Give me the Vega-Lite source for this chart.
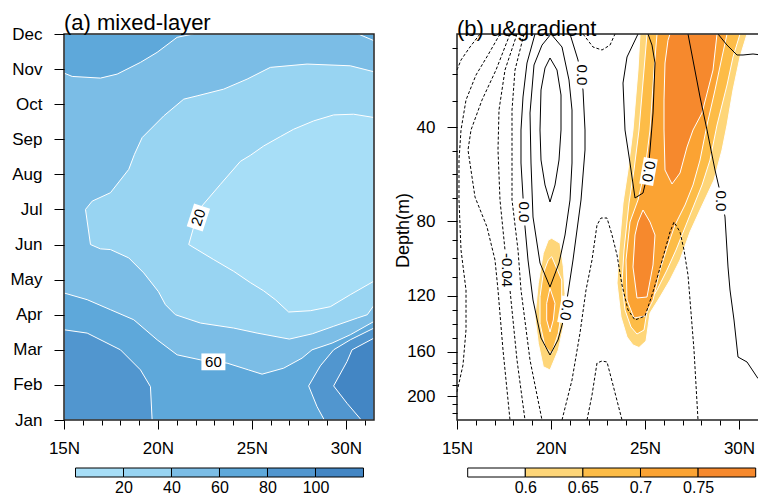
{
"$schema": "https://vega.github.io/schema/vega-lite/v6.json",
"background": "white",
"padding": {"left": 9, "top": 12, "right": 0, "bottom": 0},
"config": {
 "font": "Liberation Sans",
 "view": {"stroke": null},
 "axis": {"labelFont": "Liberation Sans", "labelColor": "#000", "tickColor": "#000", "tickWidth": 1, "ticks": true, "tickOpacity": 1, "domain": false, "grid": false, "labelFontSize": 17, "titleFont": "Liberation Sans", "titleColor": "#000"},
 "title": {"font": "Liberation Sans", "fontSize": 22, "fontWeight": "normal", "color": "#000", "anchor": "start"}
},
"datasets": {
 "mld": [
  {"p":"fr","v":"fr","i":0,"lat":15,"m":1},{"p":"fr","v":"fr","i":1,"lat":31.5,"m":1},{"p":"fr","v":"fr","i":2,"lat":31.5,"m":12},{"p":"fr","v":"fr","i":3,"lat":15,"m":12},{"p":"fr","v":"fr","i":4,"lat":15,"m":1},
  {"p":"bg","v":"c2","i":0,"lat":15,"m":1},{"p":"bg","v":"c2","i":1,"lat":31.5,"m":1},{"p":"bg","v":"c2","i":2,"lat":31.5,"m":12},{"p":"bg","v":"c2","i":3,"lat":15,"m":12},{"p":"bg","v":"c2","i":4,"lat":15,"m":1},
  {"p":"tl","v":"c3","i":0,"lat":15,"m":12},{"p":"tl","v":"c3","i":1,"lat":15,"m":10.886},{"p":"tl","v":"c3","i":2,"lat":15.436,"m":10.791},{"p":"tl","v":"c3","i":3,"lat":16.941,"m":10.743},{"p":"tl","v":"c3","i":4,"lat":17.83,"m":10.857},{"p":"tl","v":"c3","i":5,"lat":19.069,"m":11.191},{"p":"tl","v":"c3","i":6,"lat":19.957,"m":11.477},{"p":"tl","v":"c3","i":7,"lat":21.021,"m":11.906},{"p":"tl","v":"c3","i":8,"lat":21.888,"m":12},{"p":"tl","v":"c3","i":9,"lat":15,"m":12},
  {"p":"tr","v":"c3","i":0,"lat":30.665,"m":12},{"p":"tr","v":"c3","i":1,"lat":31.5,"m":11.809},{"p":"tr","v":"c3","i":2,"lat":31.5,"m":12},{"p":"tr","v":"c3","i":3,"lat":30.665,"m":12},
  {"p":"bt","v":"c3","i":0,"lat":15,"m":4.62},{"p":"bt","v":"c3","i":1,"lat":16.234,"m":4.429},{"p":"bt","v":"c3","i":2,"lat":17.473,"m":4.143},{"p":"bt","v":"c3","i":3,"lat":18.713,"m":3.857},{"p":"bt","v":"c3","i":4,"lat":19.957,"m":3.286},{"p":"bt","v":"c3","i":5,"lat":21.021,"m":2.857},{"p":"bt","v":"c3","i":6,"lat":22.261,"m":2.714},{"p":"bt","v":"c3","i":7,"lat":23.681,"m":2.62},{"p":"bt","v":"c3","i":8,"lat":24.814,"m":2.429},{"p":"bt","v":"c3","i":9,"lat":25.543,"m":2.306},{"p":"bt","v":"c3","i":10,"lat":26.691,"m":2.477},{"p":"bt","v":"c3","i":11,"lat":27.67,"m":2.763},{"p":"bt","v":"c3","i":12,"lat":28.202,"m":3.0},{"p":"bt","v":"c3","i":13,"lat":29.266,"m":3.191},{"p":"bt","v":"c3","i":14,"lat":30.239,"m":3.429},{"p":"bt","v":"c3","i":15,"lat":31.5,"m":3.809},{"p":"bt","v":"c3","i":16,"lat":31.5,"m":1},{"p":"bt","v":"c3","i":17,"lat":15,"m":1},{"p":"bt","v":"c3","i":18,"lat":15,"m":4.62},
  {"p":"bl","v":"c4","i":0,"lat":15,"m":3.571},{"p":"bl","v":"c4","i":1,"lat":16.234,"m":3.477},{"p":"bl","v":"c4","i":2,"lat":18.005,"m":3.0},{"p":"bl","v":"c4","i":3,"lat":19.069,"m":2.429},{"p":"bl","v":"c4","i":4,"lat":19.601,"m":1.951},{"p":"bl","v":"c4","i":5,"lat":19.691,"m":1},{"p":"bl","v":"c4","i":6,"lat":15,"m":1},{"p":"bl","v":"c4","i":7,"lat":15,"m":3.571},
  {"p":"br","v":"c4","i":0,"lat":31.5,"m":3.62},{"p":"br","v":"c4","i":1,"lat":30.239,"m":3.286},{"p":"br","v":"c4","i":2,"lat":29.351,"m":3.0},{"p":"br","v":"c4","i":3,"lat":28.644,"m":2.543},{"p":"br","v":"c4","i":4,"lat":28.021,"m":1.971},{"p":"br","v":"c4","i":5,"lat":28.468,"m":1.38},{"p":"br","v":"c4","i":6,"lat":28.856,"m":1},{"p":"br","v":"c4","i":7,"lat":31.5,"m":1},{"p":"br","v":"c4","i":8,"lat":31.5,"m":3.62},
  {"p":"x5","v":"c5","i":0,"lat":31.5,"m":3.334},{"p":"x5","v":"c5","i":1,"lat":30.33,"m":3.0},{"p":"x5","v":"c5","i":2,"lat":30.064,"m":2.666},{"p":"x5","v":"c5","i":3,"lat":29.351,"m":1.971},{"p":"x5","v":"c5","i":4,"lat":30.064,"m":1.477},{"p":"x5","v":"c5","i":5,"lat":30.824,"m":1},{"p":"x5","v":"c5","i":6,"lat":31.5,"m":1},{"p":"x5","v":"c5","i":7,"lat":31.5,"m":3.334},
  {"p":"b1","v":"c1","i":0,"lat":31.5,"m":10.923},{"p":"b1","v":"c1","i":1,"lat":30.239,"m":11.094},{"p":"b1","v":"c1","i":2,"lat":27.936,"m":11.143},{"p":"b1","v":"c1","i":3,"lat":25.984,"m":11.049},{"p":"b1","v":"c1","i":4,"lat":24.745,"m":10.714},{"p":"b1","v":"c1","i":5,"lat":23.5,"m":10.429},{"p":"b1","v":"c1","i":6,"lat":22.085,"m":10.237},{"p":"b1","v":"c1","i":7,"lat":21.372,"m":10.143},{"p":"b1","v":"c1","i":8,"lat":20.309,"m":9.666},{"p":"b1","v":"c1","i":9,"lat":19.16,"m":9.049},{"p":"b1","v":"c1","i":10,"lat":18.75,"m":8.571},{"p":"b1","v":"c1","i":11,"lat":18.447,"m":8.143},{"p":"b1","v":"c1","i":12,"lat":17.473,"m":7.477},{"p":"b1","v":"c1","i":13,"lat":16.5,"m":7.237},{"p":"b1","v":"c1","i":14,"lat":16.144,"m":7.0},{"p":"b1","v":"c1","i":15,"lat":16.41,"m":6.0},{"p":"b1","v":"c1","i":16,"lat":16.941,"m":5.877},{"p":"b1","v":"c1","i":17,"lat":17.473,"m":5.857},{"p":"b1","v":"c1","i":18,"lat":18.447,"m":5.62},{"p":"b1","v":"c1","i":19,"lat":19.245,"m":5.191},{"p":"b1","v":"c1","i":20,"lat":20.027,"m":4.657},{"p":"b1","v":"c1","i":21,"lat":20.399,"m":4.286},{"p":"b1","v":"c1","i":22,"lat":20.931,"m":4.0},{"p":"b1","v":"c1","i":23,"lat":22.261,"m":3.763},{"p":"b1","v":"c1","i":24,"lat":24.032,"m":3.62},{"p":"b1","v":"c1","i":25,"lat":25.277,"m":3.477},{"p":"b1","v":"c1","i":26,"lat":26.995,"m":3.306},{"p":"b1","v":"c1","i":27,"lat":28.218,"m":3.457},{"p":"b1","v":"c1","i":28,"lat":29.351,"m":3.671},{"p":"b1","v":"c1","i":29,"lat":30.612,"m":3.906},{"p":"b1","v":"c1","i":30,"lat":31.144,"m":4.0},{"p":"b1","v":"c1","i":31,"lat":31.5,"m":4.271},{"p":"b1","v":"c1","i":32,"lat":31.5,"m":10.923},
  {"p":"b0","v":"c0","i":0,"lat":31.5,"m":9.62},{"p":"b0","v":"c0","i":1,"lat":30.415,"m":9.714},{"p":"b0","v":"c0","i":2,"lat":29.351,"m":9.694},{"p":"b0","v":"c0","i":3,"lat":28.287,"m":9.523},{"p":"b0","v":"c0","i":4,"lat":27.223,"m":9.286},{"p":"b0","v":"c0","i":5,"lat":26.516,"m":9.077},{"p":"b0","v":"c0","i":6,"lat":25.628,"m":8.809},{"p":"b0","v":"c0","i":7,"lat":24.92,"m":8.543},{"p":"b0","v":"c0","i":8,"lat":24.388,"m":8.371},{"p":"b0","v":"c0","i":9,"lat":23.324,"m":7.714},{"p":"b0","v":"c0","i":10,"lat":22.261,"m":7.049},{"p":"b0","v":"c0","i":11,"lat":21.941,"m":6.571},{"p":"b0","v":"c0","i":12,"lat":21.638,"m":6.0},{"p":"b0","v":"c0","i":13,"lat":22.968,"m":5.571},{"p":"b0","v":"c0","i":14,"lat":24.032,"m":5.237},{"p":"b0","v":"c0","i":15,"lat":24.92,"m":4.914},{"p":"b0","v":"c0","i":16,"lat":25.612,"m":4.686},{"p":"b0","v":"c0","i":17,"lat":26.25,"m":4.429},{"p":"b0","v":"c0","i":18,"lat":26.957,"m":4.077},{"p":"b0","v":"c0","i":19,"lat":28.112,"m":4.114},{"p":"b0","v":"c0","i":20,"lat":29.176,"m":4.229},{"p":"b0","v":"c0","i":21,"lat":30.239,"m":4.571},{"p":"b0","v":"c0","i":22,"lat":31.5,"m":4.957},{"p":"b0","v":"c0","i":23,"lat":31.5,"m":9.62}
 ],
 "mldlab": [
  {"id":"a","lat":22.952,"m":2.657,"t":"60"},
  {"id":"b","lat":22.154,"m":6.77,"t":"20"}
 ],
 "grad": [
  {"p":"fr","v":"fr","i":0,"lat":31.01,"d":229},{"p":"fr","v":"fr","i":1,"lat":15,"d":229},{"p":"fr","v":"fr","i":2,"lat":15,"d":5},{"p":"fr","v":"fr","i":3,"lat":31.01,"d":5},
  {"p":"a1","v":"L1","i":0,"lat":24.734,"d":5},{"p":"a1","v":"L1","i":1,"lat":24.628,"d":18.41},{"p":"a1","v":"L1","i":2,"lat":24.362,"d":41.15},{"p":"a1","v":"L1","i":3,"lat":24.096,"d":58.23},{"p":"a1","v":"L1","i":4,"lat":23.83,"d":72.32},{"p":"a1","v":"L1","i":5,"lat":23.617,"d":95.53},{"p":"a1","v":"L1","i":6,"lat":23.511,"d":113.2},{"p":"a1","v":"L1","i":7,"lat":23.723,"d":135.21},{"p":"a1","v":"L1","i":8,"lat":24.043,"d":149.5},{"p":"a1","v":"L1","i":9,"lat":24.362,"d":155.21},{"p":"a1","v":"L1","i":10,"lat":24.681,"d":157.0},{"p":"a1","v":"L1","i":11,"lat":25.053,"d":152.36},{"p":"a1","v":"L1","i":12,"lat":25.266,"d":132.36},{"p":"a1","v":"L1","i":13,"lat":25.798,"d":120.93},{"p":"a1","v":"L1","i":14,"lat":26.33,"d":111.59},{"p":"a1","v":"L1","i":15,"lat":26.862,"d":100.88},{"p":"a1","v":"L1","i":16,"lat":27.394,"d":85.89},{"p":"a1","v":"L1","i":17,"lat":27.926,"d":75.3},{"p":"a1","v":"L1","i":18,"lat":28.298,"d":68.9},{"p":"a1","v":"L1","i":19,"lat":28.67,"d":62.5},{"p":"a1","v":"L1","i":20,"lat":29.096,"d":49.69},{"p":"a1","v":"L1","i":21,"lat":29.362,"d":39.14},{"p":"a1","v":"L1","i":22,"lat":29.681,"d":25.94},{"p":"a1","v":"L1","i":23,"lat":30.053,"d":13.51},{"p":"a1","v":"L1","i":24,"lat":30.426,"d":5},{"p":"a1","v":"L1","i":25,"lat":24.734,"d":5},
  {"p":"b1","v":"L1","i":0,"lat":20.037,"d":89.26},{"p":"b1","v":"L1","i":1,"lat":20.479,"d":91.94},{"p":"b1","v":"L1","i":2,"lat":20.654,"d":104.47},{"p":"b1","v":"L1","i":3,"lat":20.745,"d":118.72},{"p":"b1","v":"L1","i":4,"lat":20.654,"d":142.14},{"p":"b1","v":"L1","i":5,"lat":20.388,"d":158.79},{"p":"b1","v":"L1","i":6,"lat":19.947,"d":176.52},{"p":"b1","v":"L1","i":7,"lat":19.59,"d":173.54},{"p":"b1","v":"L1","i":8,"lat":19.324,"d":154.0},{"p":"b1","v":"L1","i":9,"lat":19.149,"d":135.0},{"p":"b1","v":"L1","i":10,"lat":19.324,"d":113.36},{"p":"b1","v":"L1","i":11,"lat":19.59,"d":97.3},{"p":"b1","v":"L1","i":12,"lat":19.856,"d":90.17},{"p":"b1","v":"L1","i":13,"lat":20.037,"d":89.26},
  {"p":"a2","v":"L2","i":0,"lat":25.106,"d":5},{"p":"a2","v":"L2","i":1,"lat":24.947,"d":18.41},{"p":"a2","v":"L2","i":2,"lat":24.681,"d":41.15},{"p":"a2","v":"L2","i":3,"lat":24.415,"d":58.23},{"p":"a2","v":"L2","i":4,"lat":24.149,"d":72.32},{"p":"a2","v":"L2","i":5,"lat":23.883,"d":95.53},{"p":"a2","v":"L2","i":6,"lat":23.777,"d":113.2},{"p":"a2","v":"L2","i":7,"lat":23.936,"d":130.21},{"p":"a2","v":"L2","i":8,"lat":24.255,"d":142.36},{"p":"a2","v":"L2","i":9,"lat":24.574,"d":147.36},{"p":"a2","v":"L2","i":10,"lat":24.947,"d":144.5},{"p":"a2","v":"L2","i":11,"lat":25.16,"d":126.64},{"p":"a2","v":"L2","i":12,"lat":25.638,"d":116.95},{"p":"a2","v":"L2","i":13,"lat":26.17,"d":106.24},{"p":"a2","v":"L2","i":14,"lat":26.649,"d":95.53},{"p":"a2","v":"L2","i":15,"lat":27.181,"d":82.14},{"p":"a2","v":"L2","i":16,"lat":27.606,"d":73.17},{"p":"a2","v":"L2","i":17,"lat":28.032,"d":64.63},{"p":"a2","v":"L2","i":18,"lat":28.457,"d":53.96},{"p":"a2","v":"L2","i":19,"lat":28.83,"d":39.14},{"p":"a2","v":"L2","i":20,"lat":29.362,"d":24.06},{"p":"a2","v":"L2","i":21,"lat":29.681,"d":13.51},{"p":"a2","v":"L2","i":22,"lat":30.053,"d":5},{"p":"a2","v":"L2","i":23,"lat":25.106,"d":5},
  {"p":"b2","v":"L2","i":0,"lat":20.037,"d":99.12},{"p":"b2","v":"L2","i":1,"lat":20.569,"d":111.59},{"p":"b2","v":"L2","i":2,"lat":20.569,"d":130.21},{"p":"b2","v":"L2","i":3,"lat":20.388,"d":146.86},{"p":"b2","v":"L2","i":4,"lat":20.037,"d":161.44},{"p":"b2","v":"L2","i":5,"lat":19.681,"d":156.43},{"p":"b2","v":"L2","i":6,"lat":19.415,"d":139.71},{"p":"b2","v":"L2","i":7,"lat":19.415,"d":120.71},{"p":"b2","v":"L2","i":8,"lat":19.59,"d":108.0},{"p":"b2","v":"L2","i":9,"lat":19.856,"d":100.88},{"p":"b2","v":"L2","i":10,"lat":20.037,"d":99.12},
  {"p":"a3","v":"L3","i":0,"lat":25.638,"d":5},{"p":"a3","v":"L3","i":1,"lat":25.479,"d":18.41},{"p":"a3","v":"L3","i":2,"lat":25.266,"d":41.15},{"p":"a3","v":"L3","i":3,"lat":25.0,"d":58.23},{"p":"a3","v":"L3","i":4,"lat":24.628,"d":71.03},{"p":"a3","v":"L3","i":5,"lat":24.202,"d":80.54},{"p":"a3","v":"L3","i":6,"lat":23.989,"d":100.88},{"p":"a3","v":"L3","i":7,"lat":24.043,"d":123.07},{"p":"a3","v":"L3","i":8,"lat":24.415,"d":135.93},{"p":"a3","v":"L3","i":9,"lat":25.0,"d":134.5},{"p":"a3","v":"L3","i":10,"lat":25.426,"d":123.07},{"p":"a3","v":"L3","i":11,"lat":25.798,"d":106.24},{"p":"a3","v":"L3","i":12,"lat":26.223,"d":92.85},{"p":"a3","v":"L3","i":13,"lat":26.596,"d":82.14},{"p":"a3","v":"L3","i":14,"lat":27.128,"d":73.17},{"p":"a3","v":"L3","i":15,"lat":27.553,"d":64.63},{"p":"a3","v":"L3","i":16,"lat":27.926,"d":53.96},{"p":"a3","v":"L3","i":17,"lat":28.298,"d":39.14},{"p":"a3","v":"L3","i":18,"lat":28.723,"d":25.94},{"p":"a3","v":"L3","i":19,"lat":29.096,"d":13.51},{"p":"a3","v":"L3","i":20,"lat":29.362,"d":5},{"p":"a3","v":"L3","i":21,"lat":25.638,"d":5},
  {"p":"b3","v":"L3","i":0,"lat":19.947,"d":116.04},{"p":"b3","v":"L3","i":1,"lat":20.213,"d":125.43},{"p":"b3","v":"L3","i":2,"lat":20.122,"d":137.36},{"p":"b3","v":"L3","i":3,"lat":19.947,"d":145.93},{"p":"b3","v":"L3","i":4,"lat":19.771,"d":137.36},{"p":"b3","v":"L3","i":5,"lat":19.771,"d":125.43},{"p":"b3","v":"L3","i":6,"lat":19.947,"d":116.04},
  {"p":"a4","v":"L4","i":0,"lat":26.33,"d":5},{"p":"a4","v":"L4","i":1,"lat":26.223,"d":7.29},{"p":"a4","v":"L4","i":2,"lat":26.064,"d":15.77},{"p":"a4","v":"L4","i":3,"lat":26.011,"d":29.71},{"p":"a4","v":"L4","i":4,"lat":26.011,"d":41.15},{"p":"a4","v":"L4","i":5,"lat":26.064,"d":58.23},{"p":"a4","v":"L4","i":6,"lat":26.436,"d":64.2},{"p":"a4","v":"L4","i":7,"lat":26.862,"d":59.51},{"p":"a4","v":"L4","i":8,"lat":27.234,"d":48.41},{"p":"a4","v":"L4","i":9,"lat":27.553,"d":41.15},{"p":"a4","v":"L4","i":10,"lat":28.032,"d":34.61},{"p":"a4","v":"L4","i":11,"lat":28.617,"d":18.41},{"p":"a4","v":"L4","i":12,"lat":28.83,"d":5},{"p":"a4","v":"L4","i":13,"lat":26.33,"d":5},
  {"p":"c4","v":"L4","i":0,"lat":24.894,"d":75.3},{"p":"c4","v":"L4","i":1,"lat":25.266,"d":80.54},{"p":"c4","v":"L4","i":2,"lat":25.532,"d":87.5},{"p":"c4","v":"L4","i":3,"lat":25.426,"d":103.56},{"p":"c4","v":"L4","i":4,"lat":25.106,"d":120.93},{"p":"c4","v":"L4","i":5,"lat":24.574,"d":121.64},{"p":"c4","v":"L4","i":6,"lat":24.362,"d":104.63},{"p":"c4","v":"L4","i":7,"lat":24.468,"d":87.5},{"p":"c4","v":"L4","i":8,"lat":24.628,"d":80.54},{"p":"c4","v":"L4","i":9,"lat":24.894,"d":75.3}
 ],
 "ulines": [
  {"l":"S1","k":"pos","i":0,"lat":19.149,"d":5},{"l":"S1","k":"pos","i":1,"lat":18.723,"d":15.77},{"l":"S1","k":"pos","i":2,"lat":18.511,"d":28.58},{"l":"S1","k":"pos","i":3,"lat":18.404,"d":41.15},{"l":"S1","k":"pos","i":4,"lat":18.404,"d":55.24},{"l":"S1","k":"pos","i":5,"lat":18.511,"d":69.75},{"l":"S1","k":"pos","i":6,"lat":18.617,"d":83.21},{"l":"S1","k":"pos","i":7,"lat":18.777,"d":100.88},{"l":"S1","k":"pos","i":8,"lat":19.043,"d":123.07},{"l":"S1","k":"pos","i":9,"lat":19.468,"d":150.21},{"l":"S1","k":"pos","i":10,"lat":19.947,"d":162.98},{"l":"S1","k":"pos","i":11,"lat":20.372,"d":151.64},{"l":"S1","k":"pos","i":12,"lat":20.691,"d":135.93},{"l":"S1","k":"pos","i":13,"lat":20.904,"d":118.55},{"l":"S1","k":"pos","i":14,"lat":21.17,"d":100.88},{"l":"S1","k":"pos","i":15,"lat":21.383,"d":84.82},{"l":"S1","k":"pos","i":16,"lat":21.596,"d":71.03},{"l":"S1","k":"pos","i":17,"lat":21.809,"d":49.69},{"l":"S1","k":"pos","i":18,"lat":21.809,"d":41.15},{"l":"S1","k":"pos","i":19,"lat":21.702,"d":25.94},{"l":"S1","k":"pos","i":20,"lat":21.436,"d":14.64},{"l":"S1","k":"pos","i":21,"lat":21.011,"d":5},
  {"l":"S2","k":"pos","i":0,"lat":20.0,"d":5},{"l":"S2","k":"pos","i":1,"lat":19.521,"d":9.05},{"l":"S2","k":"pos","i":2,"lat":19.096,"d":16.52},{"l":"S2","k":"pos","i":3,"lat":18.883,"d":34.61},{"l":"S2","k":"pos","i":4,"lat":18.936,"d":55.24},{"l":"S2","k":"pos","i":5,"lat":19.043,"d":78.29},{"l":"S2","k":"pos","i":6,"lat":19.415,"d":102.49},{"l":"S2","k":"pos","i":7,"lat":19.947,"d":115.34},{"l":"S2","k":"pos","i":8,"lat":20.426,"d":102.49},{"l":"S2","k":"pos","i":9,"lat":20.745,"d":87.5},{"l":"S2","k":"pos","i":10,"lat":21.011,"d":71.03},{"l":"S2","k":"pos","i":11,"lat":21.117,"d":55.24},{"l":"S2","k":"pos","i":12,"lat":21.117,"d":33.48},{"l":"S2","k":"pos","i":13,"lat":20.957,"d":22.17},{"l":"S2","k":"pos","i":14,"lat":20.585,"d":9.75},{"l":"S2","k":"pos","i":15,"lat":20.0,"d":5},
  {"l":"S3","k":"pos","i":0,"lat":19.947,"d":13.88},{"l":"S3","k":"pos","i":1,"lat":19.681,"d":17.65},{"l":"S3","k":"pos","i":2,"lat":19.468,"d":25.94},{"l":"S3","k":"pos","i":3,"lat":19.415,"d":41.15},{"l":"S3","k":"pos","i":4,"lat":19.468,"d":53.96},{"l":"S3","k":"pos","i":5,"lat":19.681,"d":64.63},{"l":"S3","k":"pos","i":6,"lat":19.947,"d":71.89},{"l":"S3","k":"pos","i":7,"lat":20.213,"d":64.63},{"l":"S3","k":"pos","i":8,"lat":20.426,"d":53.96},{"l":"S3","k":"pos","i":9,"lat":20.532,"d":41.15},{"l":"S3","k":"pos","i":10,"lat":20.532,"d":27.83},{"l":"S3","k":"pos","i":11,"lat":20.319,"d":18.41},{"l":"S3","k":"pos","i":12,"lat":19.947,"d":13.88},
  {"l":"S4","k":"pos","i":0,"lat":24.628,"d":5},{"l":"S4","k":"pos","i":1,"lat":24.043,"d":13.51},{"l":"S4","k":"pos","i":2,"lat":23.83,"d":23.31},{"l":"S4","k":"pos","i":3,"lat":23.936,"d":41.15},{"l":"S4","k":"pos","i":4,"lat":24.202,"d":55.24},{"l":"S4","k":"pos","i":5,"lat":24.468,"d":70.18},{"l":"S4","k":"pos","i":6,"lat":24.894,"d":68.05},{"l":"S4","k":"pos","i":7,"lat":25.16,"d":59.08},{"l":"S4","k":"pos","i":8,"lat":25.266,"d":49.69},{"l":"S4","k":"pos","i":9,"lat":25.426,"d":34.61},{"l":"S4","k":"pos","i":10,"lat":25.532,"d":15.77},{"l":"S4","k":"pos","i":11,"lat":25.372,"d":9.05},{"l":"S4","k":"pos","i":12,"lat":25.16,"d":5},
  {"l":"S5","k":"pos","i":0,"lat":27.287,"d":5},{"l":"S5","k":"pos","i":1,"lat":27.926,"d":28.58},{"l":"S5","k":"pos","i":2,"lat":28.298,"d":41.15},{"l":"S5","k":"pos","i":3,"lat":28.723,"d":58.23},{"l":"S5","k":"pos","i":4,"lat":28.883,"d":63.78},{"l":"S5","k":"pos","i":5,"lat":29.096,"d":71.03},{"l":"S5","k":"pos","i":6,"lat":29.255,"d":78.29},{"l":"S5","k":"pos","i":7,"lat":29.415,"d":104.63},{"l":"S5","k":"pos","i":8,"lat":29.521,"d":116.95},{"l":"S5","k":"pos","i":9,"lat":29.734,"d":137.36},{"l":"S5","k":"pos","i":10,"lat":29.947,"d":164.79},{"l":"S5","k":"pos","i":11,"lat":30.426,"d":169.3},{"l":"S5","k":"pos","i":12,"lat":30.957,"d":182.84},{"l":"S5","k":"pos","i":13,"lat":31.01,"d":184.2},
  {"l":"S6","k":"pos","i":0,"lat":28.883,"d":5},{"l":"S6","k":"pos","i":1,"lat":29.362,"d":9.05},{"l":"S6","k":"pos","i":2,"lat":29.894,"d":12.75},{"l":"S6","k":"pos","i":3,"lat":30.213,"d":12.75},{"l":"S6","k":"pos","i":4,"lat":30.745,"d":12.37},{"l":"S6","k":"pos","i":5,"lat":31.01,"d":12.6},
  {"l":"D1","k":"neg","i":0,"lat":16.223,"d":5},{"l":"D1","k":"neg","i":1,"lat":15.691,"d":9.75},{"l":"D1","k":"neg","i":2,"lat":15.213,"d":14.64},{"l":"D1","k":"neg","i":3,"lat":15.0,"d":18.41},
  {"l":"D2","k":"neg","i":0,"lat":17.287,"d":5},{"l":"D2","k":"neg","i":1,"lat":16.649,"d":12.75},{"l":"D2","k":"neg","i":2,"lat":16.011,"d":20.29},{"l":"D2","k":"neg","i":3,"lat":15.479,"d":29.71},{"l":"D2","k":"neg","i":4,"lat":15.213,"d":41.15},{"l":"D2","k":"neg","i":5,"lat":15.106,"d":53.96},{"l":"D2","k":"neg","i":6,"lat":15.106,"d":71.03},{"l":"D2","k":"neg","i":7,"lat":15.213,"d":95.53},{"l":"D2","k":"neg","i":8,"lat":15.479,"d":116.95},{"l":"D2","k":"neg","i":9,"lat":15.479,"d":144.5},{"l":"D2","k":"neg","i":10,"lat":15.319,"d":172.01},{"l":"D2","k":"neg","i":11,"lat":15.0,"d":196.39},
  {"l":"D3","k":"neg","i":0,"lat":17.819,"d":5},{"l":"D3","k":"neg","i":1,"lat":17.074,"d":18.41},{"l":"D3","k":"neg","i":2,"lat":16.33,"d":29.71},{"l":"D3","k":"neg","i":3,"lat":15.745,"d":41.15},{"l":"D3","k":"neg","i":4,"lat":15.585,"d":49.69},{"l":"D3","k":"neg","i":5,"lat":15.957,"d":69.75},{"l":"D3","k":"neg","i":6,"lat":16.596,"d":83.21},{"l":"D3","k":"neg","i":7,"lat":17.021,"d":100.88},{"l":"D3","k":"neg","i":8,"lat":17.181,"d":116.95},{"l":"D3","k":"neg","i":9,"lat":17.447,"d":158.79},{"l":"D3","k":"neg","i":10,"lat":17.819,"d":229},
  {"l":"D4","k":"neg","i":0,"lat":18.191,"d":5},{"l":"D4","k":"neg","i":1,"lat":17.553,"d":18.41},{"l":"D4","k":"neg","i":2,"lat":17.234,"d":33.48},{"l":"D4","k":"neg","i":3,"lat":17.181,"d":49.69},{"l":"D4","k":"neg","i":4,"lat":17.287,"d":71.03},{"l":"D4","k":"neg","i":5,"lat":17.553,"d":95.53},{"l":"D4","k":"neg","i":6,"lat":17.819,"d":116.95},{"l":"D4","k":"neg","i":7,"lat":18.191,"d":167.49},{"l":"D4","k":"neg","i":8,"lat":18.617,"d":229},
  {"l":"D5","k":"neg","i":0,"lat":18.564,"d":5},{"l":"D5","k":"neg","i":1,"lat":18.085,"d":18.41},{"l":"D5","k":"neg","i":2,"lat":17.926,"d":33.48},{"l":"D5","k":"neg","i":3,"lat":17.926,"d":49.69},{"l":"D5","k":"neg","i":4,"lat":17.926,"d":71.03},{"l":"D5","k":"neg","i":5,"lat":18.245,"d":95.53},{"l":"D5","k":"neg","i":6,"lat":18.404,"d":116.95},{"l":"D5","k":"neg","i":7,"lat":18.883,"d":167.49},{"l":"D5","k":"neg","i":8,"lat":19.521,"d":229},
  {"l":"D6","k":"neg","i":0,"lat":20.585,"d":229},{"l":"D6","k":"neg","i":1,"lat":21.117,"d":185.55},{"l":"D6","k":"neg","i":2,"lat":21.543,"d":146.64},{"l":"D6","k":"neg","i":3,"lat":21.862,"d":116.95},{"l":"D6","k":"neg","i":4,"lat":22.181,"d":100.88},{"l":"D6","k":"neg","i":5,"lat":22.447,"d":82.14},{"l":"D6","k":"neg","i":6,"lat":22.66,"d":78.72},{"l":"D6","k":"neg","i":7,"lat":22.979,"d":78.72},{"l":"D6","k":"neg","i":8,"lat":23.245,"d":87.5},{"l":"D6","k":"neg","i":9,"lat":23.511,"d":98.21},{"l":"D6","k":"neg","i":10,"lat":23.777,"d":114.27},{"l":"D6","k":"neg","i":11,"lat":24.096,"d":130.21},{"l":"D6","k":"neg","i":12,"lat":24.468,"d":137.36},{"l":"D6","k":"neg","i":13,"lat":25.0,"d":134.5},{"l":"D6","k":"neg","i":14,"lat":25.372,"d":119.63},{"l":"D6","k":"neg","i":15,"lat":25.691,"d":108.92},{"l":"D6","k":"neg","i":16,"lat":26.064,"d":95.53},{"l":"D6","k":"neg","i":17,"lat":26.33,"d":85.89},{"l":"D6","k":"neg","i":18,"lat":26.543,"d":80.54},{"l":"D6","k":"neg","i":19,"lat":26.862,"d":85.89},{"l":"D6","k":"neg","i":20,"lat":27.074,"d":95.53},{"l":"D6","k":"neg","i":21,"lat":27.287,"d":108.92},{"l":"D6","k":"neg","i":22,"lat":27.394,"d":123.07},{"l":"D6","k":"neg","i":23,"lat":27.606,"d":158.79},{"l":"D6","k":"neg","i":24,"lat":27.819,"d":229},
  {"l":"D7","k":"neg","i":0,"lat":21.915,"d":229},{"l":"D7","k":"neg","i":1,"lat":22.181,"d":199.1},{"l":"D7","k":"neg","i":2,"lat":22.447,"d":170.2},{"l":"D7","k":"neg","i":3,"lat":22.713,"d":168.4},{"l":"D7","k":"neg","i":4,"lat":22.979,"d":169.3},{"l":"D7","k":"neg","i":5,"lat":23.298,"d":190.07},{"l":"D7","k":"neg","i":6,"lat":23.777,"d":229},
  {"l":"D8","k":"neg","i":0,"lat":21.702,"d":5},{"l":"D8","k":"neg","i":1,"lat":22.234,"d":9.75},{"l":"D8","k":"neg","i":2,"lat":22.713,"d":10.87},{"l":"D8","k":"neg","i":3,"lat":23.138,"d":9.05},{"l":"D8","k":"neg","i":4,"lat":23.404,"d":5}
 ],
 "ulab": [
  {"id":"v1","lat":21.649,"d":20.29,"t":"0.0"},
  {"id":"v2","lat":18.564,"d":76.16,"t":"0.0"},
  {"id":"v3","lat":29.043,"d":71.46,"t":"0.0"},
  {"id":"n1","lat":17.633,"d":106.24,"t":"-0.04"},
  {"id":"t1","lat":20.824,"d":130.21,"t":"0.0"},
  {"id":"t2","lat":25.186,"d":58.87,"t":"0.0"}
 ],
 "cbA": [
  {"a":0,"b":1,"v":"c0"},{"a":1,"b":2,"v":"c1"},{"a":2,"b":3,"v":"c2"},{"a":3,"b":4,"v":"c3"},{"a":4,"b":5,"v":"c4"},{"a":5,"b":6,"v":"c5"}
 ],
 "cbB": [
  {"a":0,"b":1,"v":"L0"},{"a":1,"b":2,"v":"L1"},{"a":2,"b":3,"v":"L2"},{"a":3,"b":4,"v":"L3"},{"a":4,"b":5,"v":"L4"}
 ]
},
"resolve": {"scale": {"fill": "independent"}},
"spacing": 17,
"hconcat": [
 {
  "spacing": 11,
  "vconcat": [
   {
    "width": 310,
    "height": 386,
    "title": {"text": "(a) mixed-layer", "baseline": "alphabetic", "offset": -27, "frame": "group"},
    "encoding": {
     "x": {"field": "lat", "type": "quantitative", "scale": {"domain": [15, 31.5], "nice": false, "zero": false},
      "axis": {"values": [15,16,17,18,19,20,21,22,23,24,25,26,27,28,29,30,31], "labelExpr": "datum.value % 5 === 0 ? datum.value + 'N' : ''", "ticks": true, "tickSize": {"condition": {"test": "datum.value % 5 === 0", "value": 9}, "value": 5}, "labelPadding": 11, "title": null, "labelFlush": false, "labelOverlap": false, "zindex": 1}},
     "y": {"field": "m", "type": "quantitative", "scale": {"domain": [1, 12], "nice": false, "zero": false},
      "axis": {"values": [1,2,3,4,5,6,7,8,9,10,11,12], "labelExpr": "['Jan','Feb','Mar','Apr','May','Jun','Jul','Aug','Sep','Oct','Nov','Dec'][datum.value - 1]", "ticks": true, "tickSize": 10, "labelPadding": 12, "title": null, "labelFlush": false, "labelOverlap": false, "zindex": 1}}
    },
    "layer": [
     {
      "data": {"name": "mld"},
      "encoding": {
       "fill": {"field": "v", "type": "nominal", "scale": {"domain": ["c0","c1","c2","c3","c4","c5"], "range": ["#a7def7","#98d4f2","#7bbde6","#5ea8da","#5196cf","#4386c4"]}, "legend": null},
       "detail": {"field": "p"},
       "order": {"field": "i", "type": "quantitative"}
      },
      "layer": [
       {"transform": [{"filter": {"field": "v", "equal": "c2"}}], "mark": {"type": "line", "filled": true, "stroke": "white", "strokeWidth": 1}},
       {"transform": [{"filter": {"field": "v", "equal": "c3"}}], "mark": {"type": "line", "filled": true, "stroke": "white", "strokeWidth": 1}},
       {"transform": [{"filter": {"field": "v", "equal": "c4"}}], "mark": {"type": "line", "filled": true, "stroke": "white", "strokeWidth": 1}},
       {"transform": [{"filter": {"field": "v", "equal": "c5"}}], "mark": {"type": "line", "filled": true, "stroke": "white", "strokeWidth": 1}},
       {"transform": [{"filter": {"field": "v", "equal": "c1"}}], "mark": {"type": "line", "filled": true, "stroke": "white", "strokeWidth": 1}},
       {"transform": [{"filter": {"field": "v", "equal": "c0"}}], "mark": {"type": "line", "filled": true, "stroke": "white", "strokeWidth": 1}}
      ]
     },
     {"data": {"name": "mldlab"}, "transform": [{"filter": {"field": "id", "equal": "a"}}], "mark": {"type": "point", "shape": "M-1,-0.7L1,-0.7L1,0.7L-1,0.7Z", "size": 576, "filled": true, "fill": "white", "strokeWidth": 0, "opacity": 1}},
     {"data": {"name": "mldlab"}, "transform": [{"filter": {"field": "id", "equal": "b"}}], "mark": {"type": "point", "shape": "M-1,-0.7L1,-0.7L1,0.7L-1,0.7Z", "size": 576, "filled": true, "fill": "white", "strokeWidth": 0, "opacity": 1, "angle": 288}},
     {"data": {"name": "mldlab"}, "transform": [{"filter": {"field": "id", "equal": "a"}}], "mark": {"type": "text", "font": "Liberation Sans", "fontSize": 15, "color": "#000", "align": "center", "baseline": "middle"}, "encoding": {"text": {"field": "t"}}},
     {"data": {"name": "mldlab"}, "transform": [{"filter": {"field": "id", "equal": "b"}}], "mark": {"type": "text", "font": "Liberation Sans", "fontSize": 15, "color": "#000", "align": "center", "baseline": "middle", "angle": 288}, "encoding": {"text": {"field": "t"}}},
     {"data": {"name": "mld"}, "transform": [{"filter": {"field": "v", "equal": "fr"}}], "mark": {"type": "line", "stroke": "#222", "strokeWidth": 1.5},
      "encoding": {"order": {"field": "i", "type": "quantitative"}}}
    ]
   },
   {
    "width": 310,
    "height": 9,
    "data": {"name": "cbA"},
    "mark": {"type": "rect", "stroke": "#000", "strokeWidth": 1},
    "encoding": {
     "x": {"field": "a", "type": "quantitative", "scale": {"domain": [-0.2396, 6.2188], "nice": false, "zero": false},
      "axis": {"values": [1,2,3,4,5], "labelExpr": "['','20','40','60','80','100'][datum.value]", "ticks": false, "domain": false, "title": null, "labelFontSize": 16, "labelPadding": 2, "labelFlush": false, "labelOverlap": false}},
     "x2": {"field": "b"},
     "fill": {"field": "v", "type": "nominal", "scale": {"domain": ["c0","c1","c2","c3","c4","c5"], "range": ["#a7def7","#98d4f2","#7bbde6","#5ea8da","#5196cf","#4386c4"]}, "legend": null}
    }
   }
  ]
 },
 {
  "spacing": 11,
  "vconcat": [
   {
    "width": 301,
    "height": 386,
    "title": {"text": "(b) u&gradient", "baseline": "alphabetic", "offset": -27, "frame": "group"},
    "encoding": {
     "x": {"field": "lat", "type": "quantitative", "scale": {"domain": [15, 31.01], "nice": false, "zero": false},
      "axis": {"values": [15,16,17,18,19,20,21,22,23,24,25,26,27,28,29,30,31], "labelExpr": "datum.value % 5 === 0 ? datum.value + 'N' : ''", "ticks": true, "tickSize": {"condition": {"test": "datum.value % 5 === 0", "value": 9}, "value": 5}, "labelPadding": 11, "title": null, "labelFlush": false, "labelOverlap": false, "zindex": 1}},
     "y": {"field": "d", "type": "quantitative", "scale": {"domain": [5,10,40,80,120,160,200,229], "range": [0,13.7,93.3,187,261.7,317.7,362,386], "nice": false, "zero": false},
      "axis": {"values": [10,20,30,40,50,60,70,80,90,100,110,120,130,140,150,160,170,180,190,200,210,220], "labelExpr": "datum.value % 40 === 0 ? datum.value : ''", "ticks": true, "tickSize": {"condition": {"test": "datum.value % 40 === 0", "value": 10}, "value": 5}, "labelPadding": 12, "title": "Depth(m)", "titleFontSize": 18, "titleFontWeight": "normal", "titleX": -54, "titleY": 196, "titleAlign": "center", "titleBaseline": "middle", "titleAngle": 270, "labelFlush": false, "labelOverlap": false, "zindex": 1}}
    },
    "layer": [
     {
      "data": {"name": "grad"},
      "encoding": {
       "fill": {"field": "v", "type": "nominal", "scale": {"domain": ["L0","L1","L2","L3","L4"], "range": ["#ffffff","#fed679","#fdbc47","#fba333","#f6892d"]}, "legend": null},
       "detail": {"field": "p"},
       "order": {"field": "i", "type": "quantitative"}
      },
      "layer": [
       {"transform": [{"filter": {"field": "v", "equal": "L1"}}], "mark": {"type": "line", "filled": true, "stroke": "white", "strokeWidth": 1}},
       {"transform": [{"filter": {"field": "v", "equal": "L2"}}], "mark": {"type": "line", "filled": true, "stroke": "white", "strokeWidth": 1}},
       {"transform": [{"filter": {"field": "v", "equal": "L3"}}], "mark": {"type": "line", "filled": true, "stroke": "white", "strokeWidth": 1}},
       {"transform": [{"filter": {"field": "v", "equal": "L4"}}], "mark": {"type": "line", "filled": true, "stroke": "white", "strokeWidth": 1}}
      ]
     },
     {"data": {"name": "ulines"}, "transform": [{"filter": {"field": "k", "equal": "pos"}}], "mark": {"type": "line", "stroke": "#000", "strokeWidth": 1},
      "encoding": {"detail": {"field": "l"}, "order": {"field": "i", "type": "quantitative"}}},
     {"data": {"name": "ulines"}, "transform": [{"filter": {"field": "k", "equal": "neg"}}], "mark": {"type": "line", "stroke": "#000", "strokeWidth": 1, "strokeDash": [3, 2]},
      "encoding": {"detail": {"field": "l"}, "order": {"field": "i", "type": "quantitative"}}},
     {"data": {"name": "ulab"}, "transform": [{"filter": {"field": "id", "oneOf": ["v1","v2","v3"]}}], "mark": {"type": "point", "shape": "M-1,-0.52L1,-0.52L1,0.52L-1,0.52Z", "size": 729, "filled": true, "fill": "white", "strokeWidth": 0, "opacity": 1, "angle": 90}},
     {"data": {"name": "ulab"}, "transform": [{"filter": {"field": "id", "equal": "n1"}}], "mark": {"type": "point", "shape": "M-1,-0.36L1,-0.36L1,0.36L-1,0.36Z", "size": 1521, "filled": true, "fill": "white", "strokeWidth": 0, "opacity": 1, "angle": 90}},
     {"data": {"name": "ulab"}, "transform": [{"filter": {"field": "id", "oneOf": ["t1","t2"]}}], "mark": {"type": "point", "shape": "M-1,-0.52L1,-0.52L1,0.52L-1,0.52Z", "size": 729, "filled": true, "fill": "white", "strokeWidth": 0, "opacity": 1, "angle": 100}},
     {"data": {"name": "ulab"}, "transform": [{"filter": {"field": "id", "oneOf": ["v1","v2","v3","n1"]}}], "mark": {"type": "text", "font": "Liberation Sans", "fontSize": 15, "color": "#000", "align": "center", "baseline": "middle", "angle": 90}, "encoding": {"text": {"field": "t"}}},
     {"data": {"name": "ulab"}, "transform": [{"filter": {"field": "id", "oneOf": ["t1","t2"]}}], "mark": {"type": "text", "font": "Liberation Sans", "fontSize": 15, "color": "#000", "align": "center", "baseline": "middle", "angle": 100}, "encoding": {"text": {"field": "t"}}},
     {"data": {"name": "grad"}, "transform": [{"filter": {"field": "v", "equal": "fr"}}], "mark": {"type": "line", "stroke": "#222", "strokeWidth": 1.5},
      "encoding": {"order": {"field": "i", "type": "quantitative"}}}
    ]
   },
   {
    "width": 301,
    "height": 9,
    "data": {"name": "cbB"},
    "mark": {"type": "rect", "stroke": "#000", "strokeWidth": 1},
    "encoding": {
     "x": {"field": "a", "type": "quantitative", "scale": {"domain": [-0.18576, 5.03993], "nice": false, "zero": false},
      "axis": {"values": [1,2,3,4], "labelExpr": "['','0.6','0.65','0.7','0.75'][datum.value]", "ticks": false, "domain": false, "title": null, "labelFontSize": 16, "labelPadding": 2, "labelFlush": false, "labelOverlap": false}},
     "x2": {"field": "b"},
     "fill": {"field": "v", "type": "nominal", "scale": {"domain": ["L0","L1","L2","L3","L4"], "range": ["#ffffff","#fed679","#fdbc47","#fba333","#f6892d"]}, "legend": null}
    }
   }
  ]
 }
]
}
